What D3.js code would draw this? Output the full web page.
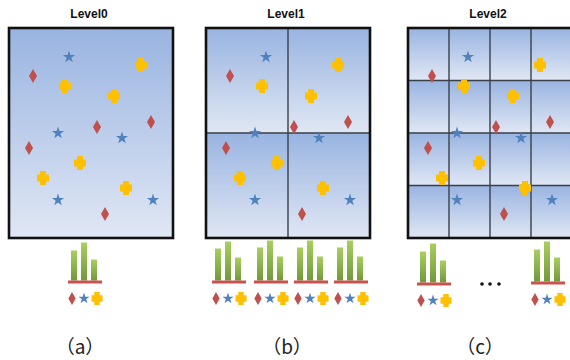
<!DOCTYPE html>
<html><head><meta charset="utf-8">
<script src="https://cdn.jsdelivr.net/npm/d3@7"></script>
<style>html,body{margin:0;padding:0;background:#fff;}svg{display:block;}</style>
</head><body>
<script>
// ---- data ----
const levels = ["Level0", "Level1", "Level2"];
const gridDivs = [1, 2, 4];
const panelLabels = ["（a）", "（b）", "（c）"];
const shapeTypes = ["diamond", "star", "plus"];
// point positions in panel units (0..164 wide, 0..210 tall)
const pointShape = ["star","plus","diamond","plus","plus","diamond","diamond","star","star","diamond","plus","plus","plus","star","star","diamond"];
const pointX = [60,132,24,56,105,142,88,49,113,20,71,34,117,49,144,96];
const pointY = [29,37,48,58,68,94,99,105,110,120,135,150,160,172,172,186];
// histograms: group left, baseline, values [diamond, star, plus]
const histLeft = [68, 212, 254, 294, 334, 417, 531];
const histBase = [282, 282, 282, 282, 282, 284, 283];
const histValues = [[30,38,21],[32,39,23],[33,40,24],[33,40,24],[33,40,24],[31,39,22],[32,40,24]];

// ---- layout ----
const W = 570, H = 360;
const panelLeft = [9, 206, 408], panelTop = 28, panelW = 164, panelH = 210;
const labelX = [80, 287, 480];
const colors = {diamond:"#c0504d", star:"#4f81bd", plus:"#ffc000"};

const svg = d3.select("body").append("svg").attr("width", W).attr("height", H);
const defs = svg.append("defs");
const bg = defs.append("linearGradient").attr("id","bg").attr("x1",0).attr("y1",0).attr("x2",0).attr("y2",1);
bg.append("stop").attr("offset","0%").attr("stop-color","#99b4e1");
bg.append("stop").attr("offset","100%").attr("stop-color","#e0e7f4");
const gg = defs.append("linearGradient").attr("id","gbar").attr("x1",0).attr("y1",0).attr("x2",0).attr("y2",1);
gg.append("stop").attr("offset","0%").attr("stop-color","#a9cf5f");
gg.append("stop").attr("offset","100%").attr("stop-color","#71993a");

function shapePath(type, s) {
  if (type === "star") return d3.symbol(d3.symbolStar, 46 * s * s)();
  if (type === "diamond") { const a = 4 * s, b = 7 * s; return `M0,${-b}L${a},0L0,${b}L${-a},0Z`; }
  const a = 6 * s, b = 7 * s, c = 3 * s, d = 3.5 * s;
  return `M${-c},${-b}L${c},${-b}L${c},${-d}L${a},${-d}L${a},${d}L${c},${d}L${c},${b}L${-c},${b}L${-c},${d}L${-a},${d}L${-a},${-d}L${-c},${-d}Z`;
}

levels.forEach((lv, p) => {
  const x = d3.scaleLinear().domain([0, 164]).range([panelLeft[p], panelLeft[p] + panelW]);
  const y = d3.scaleLinear().domain([0, 210]).range([panelTop, panelTop + panelH]);
  const g = svg.append("g");
  const n = gridDivs[p];
  const cw = panelW / n, ch = panelH / n;
  const cells = d3.cross(d3.range(n), d3.range(n));
  g.selectAll("rect.cell").data(cells).join("rect")
    .attr("x", d => panelLeft[p] + d[0] * cw).attr("y", d => panelTop + d[1] * ch)
    .attr("width", cw).attr("height", ch).attr("fill", "url(#bg)");
  for (let i = 1; i < n; i++) {
    g.append("line").attr("x1", panelLeft[p] + i * cw).attr("x2", panelLeft[p] + i * cw)
      .attr("y1", panelTop).attr("y2", panelTop + panelH).attr("stroke", "#3a3f48").attr("stroke-width", 1.4);
    g.append("line").attr("x1", panelLeft[p]).attr("x2", panelLeft[p] + panelW)
      .attr("y1", panelTop + i * ch).attr("y2", panelTop + i * ch).attr("stroke", "#3a3f48").attr("stroke-width", 1.4);
  }
  g.selectAll("path.pt").data(d3.range(pointX.length)).join("path")
    .attr("d", i => shapePath(pointShape[i], 1))
    .attr("transform", i => `translate(${x(pointX[i])},${y(pointY[i])})`)
    .attr("fill", i => colors[pointShape[i]]);
  g.append("rect").attr("x", panelLeft[p]).attr("y", panelTop).attr("width", panelW).attr("height", panelH)
    .attr("fill", "none").attr("stroke", "#111").attr("stroke-width", 2.6);
  svg.append("text").attr("x", panelLeft[p] + panelW / 2 - 2).attr("y", 18).attr("text-anchor", "middle")
    .attr("font-family", "Liberation Sans, Arial, sans-serif").attr("font-weight", "bold").attr("font-size", 12)
    .attr("fill", "#111").text(lv);
  svg.append("text").attr("x", labelX[p]).attr("y", 354).attr("text-anchor", "middle")
    .attr("font-family", "Noto Sans CJK SC, sans-serif").attr("font-size", 19).attr("fill", "#222")
    .text(panelLabels[p]);
});

// histograms
const hy = d3.scaleLinear().domain([0, 40]).range([0, 40]);
histLeft.forEach((x0, k) => {
  const base = histBase[k];
  const xb = d3.scaleBand().domain(shapeTypes).range([x0 + 1, x0 + 31]).paddingInner(0.4).paddingOuter(0.2);
  const g = svg.append("g");
  g.selectAll("rect.bar").data(shapeTypes).join("rect")
    .attr("x", d => xb(d)).attr("width", xb.bandwidth())
    .attr("y", (d, i) => base - 1.5 - hy(histValues[k][i])).attr("height", (d, i) => hy(histValues[k][i]))
    .attr("fill", "url(#gbar)");
  g.append("rect").attr("x", x0).attr("y", base - 1.5).attr("width", 34).attr("height", 3).attr("fill", "#c9524f");
  const ix = [x0 + 4, x0 + 16, x0 + 29];
  g.selectAll("path.ic").data(shapeTypes).join("path")
    .attr("d", d => shapePath(d, 0.92))
    .attr("transform", (d, i) => `translate(${ix[i]},${base + 16.5})`)
    .attr("fill", d => colors[d]);
});

svg.selectAll("circle.dot").data([482, 490, 499]).join("circle")
  .attr("cx", d => d).attr("cy", 284).attr("r", 1.8).attr("fill", "#111");
</script>
</body></html>
